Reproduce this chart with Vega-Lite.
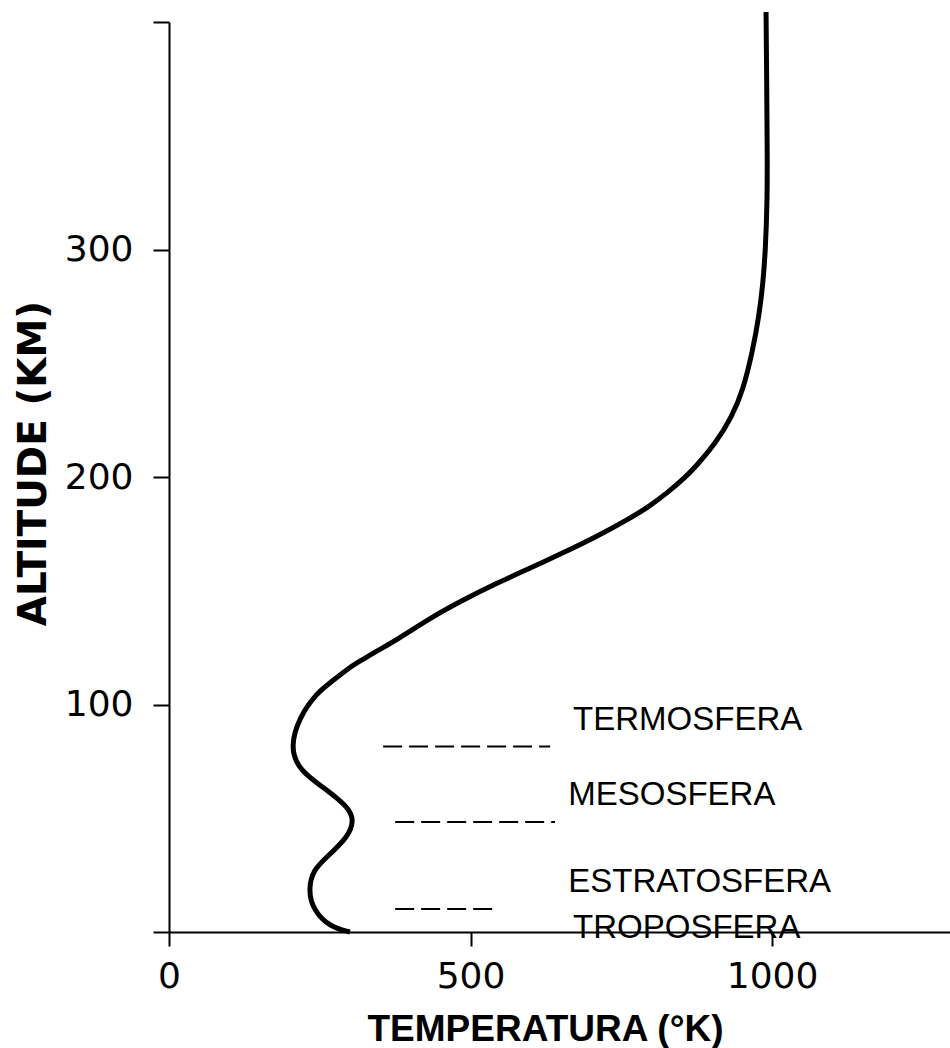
{
  "$schema": "https://vega.github.io/schema/vega-lite/v6.json",
  "width": 781,
  "height": 910,
  "autosize": {"type": "none"},
  "padding": {"left": 169, "top": 22, "right": 0, "bottom": 116},
  "background": "white",
  "config": {"view": {"stroke": null}, "axis": {"grid": false}},
  "datasets": {
    "perfil": [
      {"altitude": 0, "temperatura": 300},
      {"altitude": 2.2, "temperatura": 267},
      {"altitude": 9.7, "temperatura": 239},
      {"altitude": 18.5, "temperatura": 231},
      {"altitude": 27.3, "temperatura": 239},
      {"altitude": 33, "temperatura": 262},
      {"altitude": 41.8, "temperatura": 297},
      {"altitude": 49.2, "temperatura": 307},
      {"altitude": 54.9, "temperatura": 297},
      {"altitude": 62.4, "temperatura": 262},
      {"altitude": 71.2, "temperatura": 215},
      {"altitude": 81.3, "temperatura": 201},
      {"altitude": 94.5, "temperatura": 216},
      {"altitude": 105, "temperatura": 245},
      {"altitude": 109.5, "temperatura": 267},
      {"altitude": 116.5, "temperatura": 300},
      {"altitude": 119.6, "temperatura": 320},
      {"altitude": 124, "temperatura": 348},
      {"altitude": 128.4, "temperatura": 378},
      {"altitude": 138, "temperatura": 433},
      {"altitude": 146, "temperatura": 488},
      {"altitude": 153.4, "temperatura": 544},
      {"altitude": 160, "temperatura": 599},
      {"altitude": 166.6, "temperatura": 653},
      {"altitude": 173.6, "temperatura": 708},
      {"altitude": 182, "temperatura": 765},
      {"altitude": 186.8, "temperatura": 795},
      {"altitude": 193.4, "temperatura": 828},
      {"altitude": 199.6, "temperatura": 855},
      {"altitude": 204.4, "temperatura": 873},
      {"altitude": 215, "temperatura": 907},
      {"altitude": 226.4, "temperatura": 933},
      {"altitude": 238.2, "temperatura": 952},
      {"altitude": 255.8, "temperatura": 968},
      {"altitude": 270.3, "temperatura": 978},
      {"altitude": 285.3, "temperatura": 985},
      {"altitude": 299.8, "temperatura": 989},
      {"altitude": 321.8, "temperatura": 992},
      {"altitude": 343.7, "temperatura": 992},
      {"altitude": 374.5, "temperatura": 991},
      {"altitude": 404.4, "temperatura": 990}
    ],
    "limites": [
      {"altitude": 81.5, "t_inicio": 355, "t_fim": 632},
      {"altitude": 48.4, "t_inicio": 375, "t_fim": 640},
      {"altitude": 10.1, "t_inicio": 375, "t_fim": 544}
    ],
    "camadas": [
      {"nome": "TERMOSFERA", "altitude": 88.8, "temperatura": 670},
      {"nome": "MESOSFERA", "altitude": 55.8, "temperatura": 662},
      {"nome": "ESTRATOSFERA", "altitude": 17.6, "temperatura": 662},
      {"nome": "TROPOSFERA", "altitude": -2.6, "temperatura": 670}
    ]
  },
  "layer": [
    {
      "data": {"name": "perfil"},
      "mark": {"type": "line", "color": "black", "strokeWidth": 5, "interpolate": "basis", "clip": false},
      "encoding": {
        "x": {
          "field": "temperatura",
          "type": "quantitative",
          "scale": {"domain": [0, 1295], "nice": false, "zero": false},
          "axis": {
            "values": [0, 500, 1000],
            "format": "d",
            "title": "TEMPERATURA (°K)",
            "domainColor": "black",
            "domainWidth": 2,
            "tickColor": "black",
            "tickWidth": 2,
            "tickSize": 14,
            "labelFont": "DejaVu Sans",
            "labelFontSize": 36,
            "labelColor": "black",
            "labelPadding": 13,
            "labelFlush": false,
            "labelOverlap": false,
            "titleFont": "Liberation Sans",
            "titleFontSize": 37,
            "titleFontWeight": "bold",
            "titleColor": "black",
            "titleX": 376,
            "titleY": 108,
            "titleBaseline": "alphabetic"
          }
        },
        "y": {
          "field": "altitude",
          "type": "quantitative",
          "scale": {"domain": [0, 400], "nice": false, "zero": false},
          "axis": {
            "values": [0, 100, 200, 300, 400],
            "labelExpr": "datum.value == 0 || datum.value == 400 ? '' : datum.label",
            "title": "ALTITUDE (KM)",
            "domainColor": "black",
            "domainWidth": 2,
            "tickColor": "black",
            "tickWidth": 2,
            "tickSize": 16,
            "labelFont": "DejaVu Sans",
            "labelFontSize": 36,
            "labelColor": "black",
            "labelPadding": 20,
            "labelFlush": false,
            "labelOverlap": false,
            "titleFont": "DejaVu Sans",
            "titleFontSize": 39,
            "titleFontWeight": "bold",
            "titleColor": "black",
            "titleX": -124,
            "titleY": 441,
            "titleBaseline": "alphabetic"
          }
        },
        "order": {"field": "altitude", "type": "quantitative"}
      }
    },
    {
      "data": {"name": "limites"},
      "mark": {"type": "rule", "color": "black", "strokeWidth": 2, "strokeDash": [19, 7]},
      "encoding": {
        "x": {"field": "t_inicio", "type": "quantitative"},
        "x2": {"field": "t_fim"},
        "y": {"field": "altitude", "type": "quantitative"}
      }
    },
    {
      "data": {"name": "camadas"},
      "mark": {"type": "text", "align": "left", "baseline": "alphabetic", "font": "Liberation Sans", "fontSize": 33, "color": "black"},
      "encoding": {
        "x": {"field": "temperatura", "type": "quantitative"},
        "y": {"field": "altitude", "type": "quantitative"},
        "text": {"field": "nome"}
      }
    }
  ]
}
